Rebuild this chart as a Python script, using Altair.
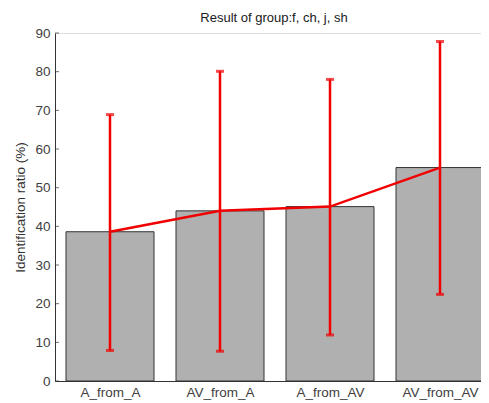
import json
import altair as alt
import pandas as pd

categories = ["A_from_A", "AV_from_A", "A_from_AV", "AV_from_AV"]
means = [38.6, 44.0, 45.1, 55.2]
upper = [68.9, 80.1, 78.0, 87.8]
lower = [7.9, 7.7, 11.9, 22.4]
y_ticks = [0, 10, 20, 30, 40, 50, 60, 70, 80, 90]

df = pd.DataFrame({"cat": categories, "mean": means, "hi": upper, "lo": lower})
ticks_df = pd.DataFrame({"v": y_ticks})

FONT = "Liberation Sans"
RED = "#f00000"
W, H = 426, 348
STEP = 110.0

xscale = alt.Scale(domain=[0.5, 0.5 + W / STEP], nice=False, zero=False)
yscale = alt.Scale(domain=[0, 90], nice=False, zero=True)

label_expr = json.dumps(categories) + "[datum.value - 1]"
x_axis = alt.Axis(title=None, values=[1, 2, 3, 4], ticks=False, labelExpr=label_expr,
                  labelFont=FONT, labelFontSize=13.5, labelColor="#404040",
                  labelPadding=4, domainColor="#333333", grid=False, labelAngle=0,
                  labelFlush=False)
y_axis = alt.Axis(title="Identification ratio (%)", values=y_ticks, labelOverlap=False,
                  ticks=False, labelPadding=5, labelFont=FONT, labelFontSize=13.5,
                  labelColor="#404040", titleFont=FONT, titleFontSize=13.5,
                  titleFontWeight="normal", titleColor="#303030", titlePadding=7,
                  domainColor="#333333", grid=False)

base = alt.Chart(df).transform_window(
    idx="row_number()"
).transform_calculate(
    x0="datum.idx - 0.4", x1="datum.idx + 0.4"
)

bars = base.mark_rect(color="#b0b0b0", stroke="#333333", strokeWidth=1).encode(
    x=alt.X("x0:Q", scale=xscale, axis=x_axis),
    x2="x1:Q",
    y=alt.Y("mean:Q", scale=yscale, axis=y_axis),
    y2=alt.datum(0),
)

inner_ticks = alt.Chart(ticks_df).mark_tick(
    orient="horizontal", color="#333333", size=4, thickness=1
).encode(
    x=alt.value(2),
    y=alt.Y("v:Q", scale=yscale, axis=None),
)

xq = alt.X("idx:Q", scale=xscale, axis=None)

err = base.mark_rule(color=RED, strokeWidth=2.5).encode(
    x=xq,
    y=alt.Y("lo:Q", scale=yscale, axis=None),
    y2="hi:Q",
)
cap_hi = base.mark_tick(orient="horizontal", color=RED, size=8, thickness=3).encode(
    x=xq, y=alt.Y("hi:Q", scale=yscale, axis=None))
cap_lo = base.mark_tick(orient="horizontal", color=RED, size=8, thickness=3).encode(
    x=xq, y=alt.Y("lo:Q", scale=yscale, axis=None))
line = base.mark_line(color=RED, strokeWidth=2.5).encode(
    x=xq, y=alt.Y("mean:Q", scale=yscale, axis=None))

chart = alt.layer(bars, err, cap_hi, cap_lo, line, inner_ticks).resolve_scale(
    x="independent", y="independent"
).resolve_axis(
    x="independent", y="independent"
).properties(
    width=W, height=H,
    title=alt.TitleParams("Result of group:f, ch, j, sh", font=FONT, fontSize=13,
                          fontWeight="normal", color="#202020", anchor="middle",
                          offset=1, dx=6),
    autosize=alt.AutoSizeParams(type="none"),
    padding={"left": 47, "top": 25, "right": 0, "bottom": 20},
).configure_view(strokeWidth=0, stroke="transparent").configure(background="white")

chart.save("out.html", embed_options={"renderer": "svg", "actions": False})
